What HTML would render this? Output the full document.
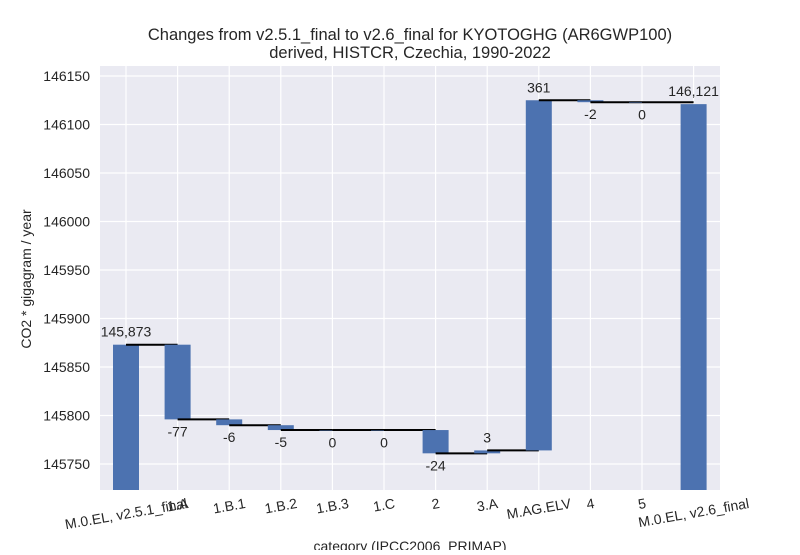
<!DOCTYPE html>
<html><head><meta charset="utf-8"><style>
body{margin:0;background:#fff;}
svg text{font-family:"Liberation Sans",sans-serif;fill:#262626;}
</style></head><body>
<svg id="c" width="800" height="550" xmlns="http://www.w3.org/2000/svg">
<text x="410" y="40" font-size="16.5" text-anchor="middle">Changes from v2.5.1_final to v2.6_final for KYOTOGHG (AR6GWP100)</text>
<text x="410" y="58" font-size="16.5" text-anchor="middle">derived, HISTCR, Czechia, 1990-2022</text>
<rect x="100" y="66" width="620" height="424" fill="#eaeaf2"/>
<g id="grid"></g><g id="bars"></g>
<text transform="translate(31,279) rotate(-90)" font-size="14" text-anchor="middle">CO2 * gigagram / year</text>
<text x="410" y="551" font-size="14" text-anchor="middle">category (IPCC2006_PRIMAP)</text>
</svg>
<script>
const categories=["M.0.EL, v2.5.1_final","1.A","1.B.1","1.B.2","1.B.3","1.C","2","3.A","M.AG.ELV","4","5","M.0.EL, v2.6_final"];
const startValue=145873;
const changes=[-77,-6,-5,0,0,-24,3,361,-2,0];
const endValue=146121;
const labels=["145,873","-77","-6","-5","0","0","-24","3","361","-2","0","146,121"];
const yTicks=[145750,145800,145850,145900,145950,146000,146050,146100,146150];
const NS="http://www.w3.org/2000/svg";
const y=v=>464-(v-145750)*0.97;
const x=i=>126+i*51.6;
const bw=26, bottom=490;
const g=document.getElementById('grid'), b=document.getElementById('bars');
function mk(tag,attrs,parent,txt){const e=document.createElementNS(NS,tag);for(const k in attrs)e.setAttribute(k,attrs[k]);if(txt!==undefined)e.textContent=txt;parent.appendChild(e);return e;}
yTicks.forEach(t=>{
 const l=mk('line',{x1:100,x2:720,y1:y(t),y2:y(t),stroke:'#fff','stroke-width':1.2},g);
 
 
 const tx=mk('text',{x:90,y:y(t)+5,'font-size':14,'text-anchor':'end'},g,String(t));
 
 
});
categories.forEach((c,i)=>{
 const l=mk('line',{x1:x(i),x2:x(i),y1:66,y2:490,stroke:'#fff','stroke-width':1.2},g);
 
 
 const tx=mk('text',{'font-size':14,'text-anchor':'middle'},g,c);
 const w=tx.getComputedTextLength();
 const s=Math.sin(10*Math.PI/180), co=Math.cos(10*Math.PI/180);
 const bh=w*s+14*co;
 const cy=496+bh/2;
 tx.setAttribute('transform',`translate(${x(i)},${cy}) rotate(-10) translate(0,5)`);
 
 
});
function bar(i,v0,v1,lab,above){
 const t=Math.min(y(v0),y(v1)), h=Math.max(Math.abs(y(v0)-y(v1)),0.5);
 const r=mk('rect',{x:x(i)-bw/2,y:t,width:bw,height:Math.min(h,bottom-t),fill:'#4c72b0'},b);
 
 
 const ly=above? t-8 : t+h+17;
 const tx=mk('text',{x:x(i),y:ly,'font-size':14,'text-anchor':'middle'},b,lab);
 
 
}
bar(0,145700,startValue,labels[0],true);
let cur=startValue;
changes.forEach((d,k)=>{
 const i=k+1,prev=cur;cur+=d;
 const ln=mk('line',{x1:x(i-1),x2:x(i),y1:y(prev),y2:y(prev),stroke:'#000','stroke-width':2},b);
 
 
 bar(i,prev,cur,labels[i],d>0);
});
const ln=mk('line',{x1:x(10),x2:x(11),y1:y(cur),y2:y(cur),stroke:'#000','stroke-width':2},b);


bar(11,145700,endValue,labels[11],true);
</script>
</body></html>
